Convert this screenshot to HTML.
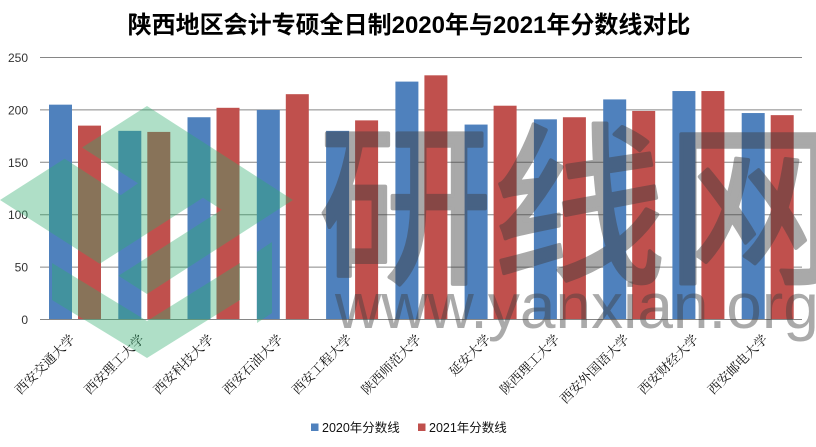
<!DOCTYPE html>
<html><head><meta charset="utf-8"><style>
html,body{margin:0;padding:0;background:#fff;}
svg{display:block;}
</style></head><body>
<svg width="816" height="447" viewBox="0 0 816 447" xmlns="http://www.w3.org/2000/svg">
<rect width="816" height="447" fill="#fff"/>
<text x="409" y="33" text-anchor="middle" font-family="'Liberation Sans','Noto Sans CJK SC',sans-serif" font-weight="bold" font-size="24" fill="#000">陕西地区会计专硕全日制2020年与2021年分数线对比</text>
<g stroke="#868686" stroke-width="1">
<line x1="40" y1="57.5" x2="802" y2="57.5"/>
<line x1="40" y1="109.9" x2="802" y2="109.9"/>
<line x1="40" y1="162.3" x2="802" y2="162.3"/>
<line x1="40" y1="214.7" x2="802" y2="214.7"/>
<line x1="40" y1="267.1" x2="802" y2="267.1"/>
</g>
<g font-family="'Liberation Sans',sans-serif" font-size="12" fill="#333" text-anchor="end">
<text x="28" y="62">250</text>
<text x="28" y="114.4">200</text>
<text x="28" y="166.8">150</text>
<text x="28" y="219.2">100</text>
<text x="28" y="271.6">50</text>
<text x="28" y="324">0</text>
</g>
<g fill="#4F81BD">
<rect x="49.0" y="104.66" width="23" height="214.84"/>
<rect x="118.3" y="130.86" width="23" height="188.64"/>
<rect x="187.5" y="117.24" width="23" height="202.26"/>
<rect x="256.8" y="109.9" width="23" height="209.6"/>
<rect x="326.1" y="130.86" width="23" height="188.64"/>
<rect x="395.4" y="81.6" width="23" height="237.9"/>
<rect x="464.6" y="124.57" width="23" height="194.93"/>
<rect x="533.9" y="119.33" width="23" height="200.17"/>
<rect x="603.2" y="99.42" width="23" height="220.08"/>
<rect x="672.4" y="91.04" width="23" height="228.46"/>
<rect x="741.7" y="113.04" width="23" height="206.46"/>
</g>
<g fill="#C0504D">
<rect x="78.0" y="125.62" width="23" height="193.88"/>
<rect x="147.3" y="131.91" width="23" height="187.59"/>
<rect x="216.5" y="107.8" width="23" height="211.7"/>
<rect x="285.8" y="94.18" width="23" height="225.32"/>
<rect x="355.1" y="120.38" width="23" height="199.12"/>
<rect x="424.4" y="75.32" width="23" height="244.18"/>
<rect x="493.6" y="105.71" width="23" height="213.79"/>
<rect x="562.9" y="117.24" width="23" height="202.26"/>
<rect x="632.2" y="110.95" width="23" height="208.55"/>
<rect x="701.4" y="91.04" width="23" height="228.46"/>
<rect x="770.7" y="115.14" width="23" height="204.36"/>
</g>
<line x1="40" y1="319.5" x2="802" y2="319.5" stroke="#868686" stroke-width="1"/>
<g font-family="'Liberation Serif','Noto Serif CJK SC',serif" font-size="13" fill="#111" text-anchor="end">
<text x="75.6" y="340" transform="rotate(-45 75.6 340)">西安交通大学</text>
<text x="144.9" y="340" transform="rotate(-45 144.9 340)">西安理工大学</text>
<text x="214.2" y="340" transform="rotate(-45 214.2 340)">西安科技大学</text>
<text x="283.4" y="340" transform="rotate(-45 283.4 340)">西安石油大学</text>
<text x="352.7" y="340" transform="rotate(-45 352.7 340)">西安工程大学</text>
<text x="422.0" y="340" transform="rotate(-45 422.0 340)">陕西师范大学</text>
<text x="491.3" y="340" transform="rotate(-45 491.3 340)">延安大学</text>
<text x="560.5" y="340" transform="rotate(-45 560.5 340)">陕西理工大学</text>
<text x="629.8" y="340" transform="rotate(-45 629.8 340)">西安外国语大学</text>
<text x="699.1" y="340" transform="rotate(-45 699.1 340)">西安财经大学</text>
<text x="768.4" y="340" transform="rotate(-45 768.4 340)">西安邮电大学</text>
</g>
<rect x="311" y="423.5" width="7.5" height="7.5" fill="#4F81BD"/>
<text x="322" y="432" font-family="'Liberation Sans','Noto Sans CJK SC',sans-serif" font-size="12.5" fill="#111">2020年分数线</text>
<rect x="418" y="423.5" width="7.5" height="7.5" fill="#C0504D"/>
<text x="429" y="432" font-family="'Liberation Sans','Noto Sans CJK SC',sans-serif" font-size="12.5" fill="#111">2021年分数线</text>

<defs>
<mask id="m1" maskUnits="userSpaceOnUse" x="0" y="0" width="816" height="447">
<polygon points="0,200 147,106 293,200 147,294" fill="#fff"/>
<polygon points="40,120.6 138,183.3 120.8,195.1 40,142.6" fill="#000"/>
<polygon points="80,276.4 203,197.7 221.7,209.7 80,300.4" fill="#000"/>
</mask>
</defs>
<g opacity="0.38">
<g mask="url(#m1)"><rect x="0" y="100" width="300" height="200" fill="#2FAE6E"/></g>
<polygon points="52,263 147,321 240,263 240,300 147,358 52,300" fill="#2FAE6E"/>
<polygon points="257,252 272,242 272,313 257,323" fill="#2FAE6E"/>
</g>
<g opacity="0.44">
<text x="318" y="270" font-family="'Noto Sans CJK SC','WenQuanYi Zen Hei',sans-serif" font-weight="normal" font-size="174" fill="#3d3d3d" stroke="#3d3d3d" stroke-width="4" stroke-linejoin="round">研线网</text>
</g>
<g fill="#3d3d3d" fill-opacity="0.44">
<text x="335" y="328" font-family="'Liberation Sans',sans-serif" font-size="64">www.yanxian.org</text>
</g>
</svg>
</body></html>
